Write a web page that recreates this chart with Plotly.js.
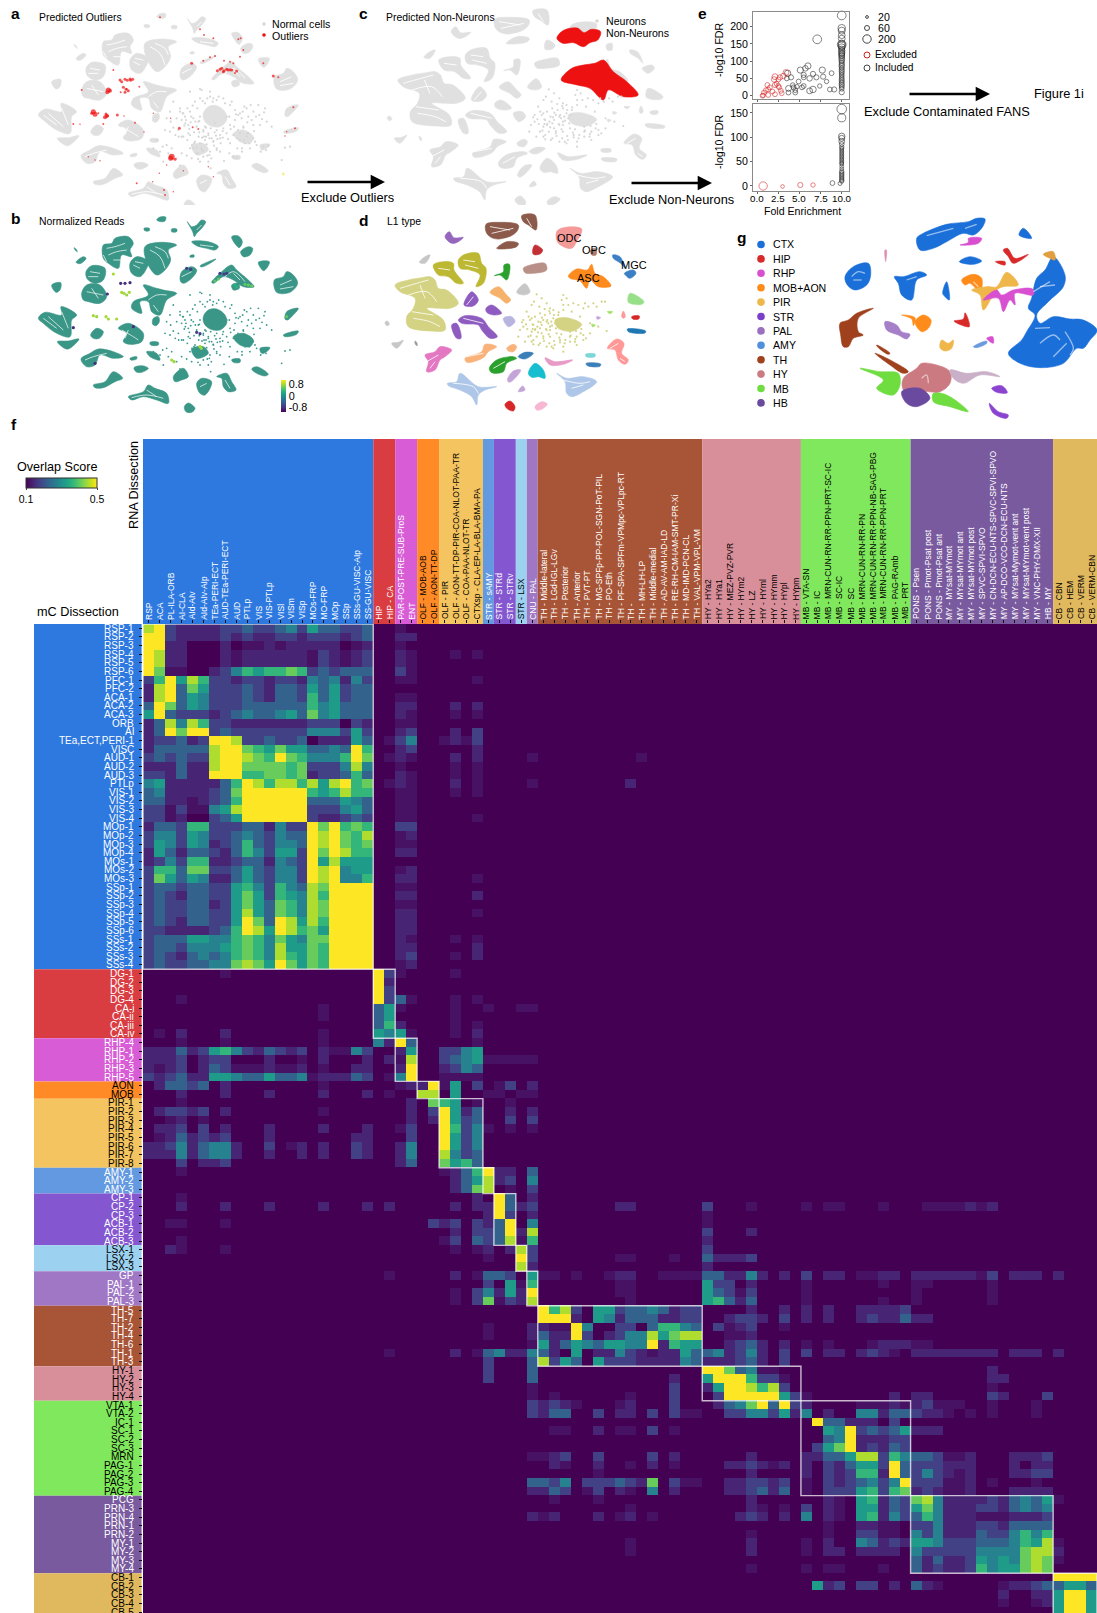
<!DOCTYPE html>
<html><head><meta charset="utf-8"><script src="https://cdn.plot.ly/plotly-3.0.1.min.js"></script>
<style>html,body{margin:0;padding:0;background:#fff}#g{width:1097px;height:1613px}</style></head><body><div id="g"></div>
<script>
const FONT='"Liberation Sans",Arial,sans-serif';
// ---------- heatmap labels ----------
const rowLabels=["RSP-1","RSP-2","RSP-3","RSP-4","RSP-5","RSP-6","PFC-1","PFC-2","ACA-1","ACA-2","ACA-3","ORB","AI","TEa,ECT,PERI-1","VISC","AUD-1","AUD-2","AUD-3","PTLp","VIS-1","VIS-2","VIS-3","VIS-4","MOp-1","MOp-2","MOp-3","MOp-4","MOs-1","MOs-2","MOs-3","SSp-1","SSp-2","SSp-3","SSp-4","SSp-5","SSp-6","SSs-1","SSs-2","SSs-3","SSs-4",
"DG-1","DG-2","DG-3","DG-4","CA-i","CA-ii","CA-iii","CA-iv","RHP-4","RHP-1","RHP-2","RHP-3","RHP-5","AON","MOB","PIR-1","PIR-2","PIR-3","PIR-4","PIR-5","PIR-6","PIR-7","PIR-8","AMY-1","AMY-2","AMY-3","CP-1","CP-2","CP-3","ACB-1","ACB-2","ACB-3","LSX-1","LSX-2","LSX-3","GP","PAL-1","PAL-2","PAL-3","TH-5","TH-7","TH-2","TH-4","TH-6","TH-1","TH-3","HY-1","HY-2","HY-3","HY-4","VTA-1","VTA-2","IC-1","SC-1","SC-2","SC-3","MRN","PAG-1","PAG-2","PAG-3","PAG-4","PCG","PRN-3","PRN-4","PRN-1","PRN-2","MY-1","MY-2","MY-3","MY-4","CB-1","CB-2","CB-3","CB-4","CB-5"];
const colLabels=["RSP","ACA","PL-ILA-ORB","AI-CLA","AId-AIv","AId-AIv-AIp","TEa-PERI-ECT","AUD-TEa-PERI-ECT","AUD","PTLp","VIS","VIS-PTLp","VISl","VISm","VISp","MOs-FRP","MO-FRP","MOp","SSp","SSs-GU-VISC-AIp","SS-GU-VISC","HIP","HIP - CA","PAR-POST-PRE-SUB-ProS","ENT","OLF - MOB-AOB","OLF - AON-TT-DP","OLF - PIR","OLF - AON-TT-DP-PIR-COA-NLOT-PAA-TR","OLF - COA-PAA-NLOT-TR","CTXsp - CLA-EP-LA-BLA-BMA-PA","STR - sAMY","STR - STRd","STR - STRv","STR - LSX","CNU - PAL","TH - Middle-lateral","TH - LGd-IGL-LGv","TH - Posterior","TH - Anterior","TH - PVT-PT","TH - MG-SPFp-PP-POL-SGN-PoT-PIL","TH - PO-Eth","TH - PF-SPA-SPFm-VPMpc-VPLpc-RT","TH -","TH - MH-LH-LP","TH - Middle-medial","TH - AD-AV-AM-IAD-LD","TH - RE-RH-CM-IAM-SMT-PR-Xi","TH - MD-IMD-PCN-CL","TH - VAL-VPM-VPL-VM","HY - HYa2","HY - HYa1","HY - MEZ-PVZ-PVR","HY - HYm2","HY - LZ","HY - HYml","HY - HYmm","HY - HYpl","HY - HYpm","MB - VTA-SN","MB - IC","MB - MRN-CUN-RN-RR-PPN-PRT-SC-IC","MB - SC-IC","MB - SC","MB - MRN-CUN-RN-RR-PN","MB - MRN-CUN-RN-RR-PPN-NB-SAG-PBG","MB - MRN-CUN-RN-RR-PPN-PRT","MB - PAG-RAmb","MB - PRT","PONS - Psen","PONS - Pmot-Psat post","PONS - Pmot-Psat ant","MY - MYsat-MYmot","MY - MYsat-MYmot ant","MY - MYsat-MYmot post","MY - SPVC-SPVI-SPVO","MY - CN-DCN-ECU-NTS-SPVC-SPVI-SPVO","MY - AP-DCO-VCO-DCN-ECU-NTS","MY - MYsat-Mymot-vent ant","MY - MYsat-MYmot-vent post","MY - VNC-PHY-DMX-XII","HB - MY","CB - CBN","CB - HEM","CB - VERM","CB - VERM-CBN"];
const groupNames=["CTX","HIP","RHP","MOB","PIR","AMY","STR","LSX","PAL","TH","HY","MB","HB","CB"];
const groupColors=["#2e79e0","#d93d42","#d75cd5","#ff8a26","#f3c45f","#6299e0","#8456d0","#9dd1f0","#a077c5","#a75437","#d98f9a","#80e85c","#795a9e","#e0b85e"];
const groupTextColors=["#fff","#fff","#fff","#000","#000","#fff","#fff","#000","#fff","#fff","#000","#000","#fff","#000"];
const rowGroupSizes=[40,8,5,2,8,3,6,3,4,7,4,11,9,5];
const colGroupSizes=[21,2,2,2,4,1,2,1,1,15,9,10,13,4];
// ---------- heatmap values, one char per cell on a 0-9 viridis scale (a=faint); segments: CTX | HIP..PAL | TH | HY | MB | HB | CB
const overlapRows=[
"892111122322342533223 00a","992111121211221222123 0011","991100010aa1a111110a1 00a","98110001a111111a21a12 001a000a0a","98110001a111111a21a12 001a","97aa00124656676232333 002a",
"269586221221221434142 00aa00000a","189375222321332535233 0","189354222321332635233 00aa","397354222333333645333 0011000101","593222123433453745333 001a000a0a","138486221111111222021 00aa","139799232222222444252 0012000102",
"122312998223223011153 0a2400a1a2","133333899765755334396 0012000001","232322899876976444697 0a1a0001010000a 000000000a","111311899777767222484 00a0000a0a","221311999667767122363 001a000a0a",
"451111136986886858967 0a1a00010a0000a 000000001","341111237999999656866 00aa000a0a","3311a1236999999333543 00aa","22a2aa458999999222453 00aa","22a100235999999211232 00aa00000a",
"133266222331422979676 0022","244254223432433989768 00a1","254254123632443989767 00aa","153133213642552979866 0011","124266112331432958555 0","266377223532442989455 00a1","275354113532442989446 001100000a",
"233233225642643879999 00aa","232133225752654869999 0011000001","232233125753764879999 00aa","232233225853764879999 001100000a","232133225973985869999 0011","221111236985986759999 0011",
"233355446764754779999 001a000a0a","233244456764855769999 0011000001","232134346764865769999 0012000a01","232233447875975769999 00a1",
"0000000a 92a0000a","0 91","0 92","000a 923a000a0a","0000000000000000a 35a0000a00a00aa","0000000000000000a 3500000a","0 3610000a0a","0a01000100000000a 545a000a01",
"000a000a00000000a 419300000a","11131256421321201aa42 0015002245","11120122000100a010001 01a8002345aaaaa","1a120132aaa1aa10a0011 0019001243","212311554335334a11132 0a4900aaaa",
"0133230100000000a0000 00a119a5020a201","000100010001000010001 0a00880500aa0aa",
"000a 000107650a00a","0122120100000000a0000 000102951300101","00a10a 000101952300202","011202010001000010001 00a2009624a0a0a","0a1312120001000000011 0002009524","1124134410020a1010021 0014009524","111413441001001010021 0014008423","000201120 0013007563",
"000a 000000a13691103","0 000000013581204","0 000000013780a02",
"000a 000000000109301","000100010001000010001 010000010119312 000000011 2000a a0aa000a 0aaaa1a1","0 000000000019201 0 a","00aa000a 000002120213904 0 a","0 000000010223918 0 20001","000a 000000a203238a6 0 1",
"001a000a 0000000a0a10182 0 2","0 0000000000a0092 0000000aa000a 31112","0 000000000000081 0 1",
"0 0a0000010a33205 aa0a00a1100aaaa 331141010 20110aa110 111111a201110 1","0 0000000000205a6 0000000aa 52201 a000000a aa00000a",
"0 0000000a0241519 0000000aa 532a2 a a000000a","0 0000000a027a218 00000000a 56313 a000000a a000000a",
"0 0 968205523343122 000010010 1010011112","0 0 999105413331122 001221020 1010012113 11","0 0000000000a0001 1aa940022036643 02a1200a","0 0000000000a0001 311920124485788 00aa1","0 00000000000000a 513543554491655 001231010 a0a000a111 aa",
"0 0a0000010a34114 3105011421a1153 341241020 20110121a0 1111111101110 1","0 000000000020003 825305222111143 111231020",
"0 000000000020003 0 99734aa 0 00000001","0 000000000020003 0000000000001 5999622a 0 000000011","0 00000000000000a 0000000000002 15998682 0 0000000a","0 00000000000000a 0a000000a0002 029999952 a00000001 1100000210002",
"0 000000000000002 121a000a10002 013479392 10000aaa1a 12aaa00a000a","0 000000000000002 1330020110202aa 002244251 4010044133 211a0a0a000a",
"0 0 0 0 093311102","0 0 0aa0010aa020a 0 0054923235 111","0 0 0 0 0034911122","0 0 0 0 0257912132",
"0 00000000000000a a120020000201 00001 1133588264 332aa10001112","0 0 01a00100a010a 001121a1 1021355293 2221110001011","0 0 00000a 00001 1021266193 2421a10001122",
"0 000000000000003 3240222321702aa 00112212 a021234249 222aa10a000a","0 000000000000001 1320a201a0401 00112313 a022256267 121aa10001111",
"0 0 0a000a 00001 001a056132 7841111213435 a","0 0 00000000a 00001a0a 201a055132 5741112213434","0 000000000000001 a100010a10a 00012101 401a056142 364111aaa1112",
"0 0 0 0 00a0011aa 2241112213333","0 0 0 0000a 00a0022aa 4241113224646","0 0 00000000a 00001 a010043121 5542223334658 a","0 0 00000000a 00001 a01101111 4222224444788 1","0 0 0 0 0 3131125454787 a","0 0 0 0000a a0aa000a 3121126455787",
"0 0 0 0 0 0 9999","0 0 0 0 051202201 31a00000a1123 3553","0 0 0 0 0 0000000010011 5995","0 0 0 0 0 00000000a00a1 5995","0 0 0 0 0 0 5995"];
const segmentLengths=[21,15,15,9,10,13,4];
const levelScores={'0':.1,'a':.118,'1':.14,'2':.176,'3':.224,'4':.276,'5':.32,'6':.364,'7':.408,'8':.452,'9':.5};
const z=overlapRows.map(r=>{const segs=r.split(' ');let out=[];segmentLengths.forEach((n,i)=>{const s=((segs[i]||'')+'0'.repeat(n)).slice(0,n);for(const c of s)out.push(levelScores[c]);});return out;});
// ---------- UMAP outlines (image-crop units) ----------
const layoutABBlobs=[[470,45,480,36,497,36,495,48,482,50],[432,70,448,70,448,77,434,77],[515,72,530,72,530,80,515,80],[562,50,575,65,590,60,605,45,617,50,605,70,590,85,583,95,578,80],[575,110,610,108,640,115,655,125,645,135,620,130,590,122],[695,95,715,93,727,110,718,128,708,120],[722,140,745,125,758,130,750,150,730,155],[775,172,808,170,800,190,790,197],[570,152,582,150,582,156,570,156],
[310,120,335,115,345,100,385,95,400,115,390,135,395,155,365,150,355,190,325,175,310,160],[390,175,410,155,445,170,440,190,420,215,395,205],[435,125,480,112,530,120,505,135,512,165,495,195,470,210,440,170],[545,200,575,185,590,195,575,220,550,235,541,228],[635,232,660,205,695,180,710,195,745,225,762,245,730,245,700,225,670,215,640,235],[695,240,715,235,718,250,700,255],[823,225,850,215,860,200,880,210,893,235,870,262,830,262],[600,183,625,170,648,162,630,175,605,186],[228,172,250,155,258,160,240,176],[222,128,228,132,232,140,226,136],
[258,200,275,182,315,190,310,225,285,235,262,222],[245,265,260,240,300,240,320,275,300,295,265,290,250,285],[155,240,182,233,180,255,168,262],[430,240,470,250,490,255,530,265,500,285,480,330,455,320,445,290,420,290,425,325,395,310,400,290,445,270],[460,340,475,335,478,350,468,362,458,358],[115,340,135,322,185,330,183,305,230,330,215,345,210,395,170,385,130,355],[272,390,290,370,310,380,298,400,280,400],[355,370,385,355,430,385,425,410,390,418,370,410,380,385],[172,410,205,408,237,402,205,432,190,428],[243,462,270,445,295,432,340,440,370,455,340,460,300,450,285,480,260,485],[402,488,425,482,445,490,425,502,408,500],[280,540,315,530,340,500,368,520,345,530,310,548,285,548],[385,575,430,560,445,540,465,550,500,565,505,595,470,585,430,575,395,585],[553,605,565,594,585,610,575,622,558,620],[590,535,605,520,635,530,615,570,600,565],[650,515,680,505,695,530,708,555,685,560,670,545,665,520],[520,515,550,490,565,515,545,525,525,530],[755,492,770,485,805,508,795,513,770,505],[695,464,720,462,720,472,700,472],[855,342,860,320,895,310,875,335,862,345],[850,390,895,378,890,388,855,395],[610,335,625,315,650,312,675,330,680,355,660,375,630,372,612,355],[700,395,730,385,760,405,750,425,720,420],[780,430,810,428,800,440,785,445],[440,440,470,445,480,465,450,455],[450,412,475,412,475,420,452,420],[390,460,410,455,410,462,392,465],[575,432,610,425,625,445,590,460]];
const layoutABStreaks=[[320,130,345,125,375,115],[325,150,350,140,380,135],[340,165,365,165],[400,180,420,190],[405,170,430,175],[450,135,480,155,495,190],[465,125,495,140,505,160],[270,200,300,205],[265,215,295,215],[260,260,285,265,310,270],[275,250,295,280],[130,340,170,370],[145,335,190,375],[185,320,205,370],[365,375,400,395,415,405],[385,375,375,400],[255,465,280,455,320,445],[395,578,440,570,490,580],[440,555,470,575],[665,225,700,200,735,230],[700,205,720,225],[840,240,875,225],[840,252,880,245],[445,285,470,270,500,270],[460,300,475,320],[320,170,310,150],[545,215,575,200],[605,60,590,75],[600,120,640,125],[600,545,620,535],[675,525,690,550]];
const layoutABCloudX=[540,555,570,585,600,615,630,650,670,690,705,720,740,760,775,795,565,580,600,590,610,625,650,670,690,705,725,745,760,780,800,815,545,535,550,570,585,600,615,640,660,680,700,720,740,760,770,790,805,720,735,750,690,650,630,610,590,570,575,600,625,650,660,520,510,500,530,495,510,545,470,460,480,500,515,490,530,545,560,700,710,855,870,845,600,570,605,630,640,625,680,595,645,660,730,755,565,615,635,580,548,562,578,592,608,622,638,656,675,695,715,733,752,768,786,558,572,586,598,618,632,644,688,708,728,742,778,792,553,568,582,596,612,628,648,668,692,712,732,748,765,782,798,562,576,590,604,620,642,662,684,726,744,762,540,556,574,594,610,640,606,622,634,652,668,610,598,606,628,594,582,702,714,730,742,712,726,700,688,672,550,536,520,512,526,488,505,540,618,632];
const layoutABCloudY=[320,345,330,300,290,305,285,295,290,310,325,335,320,330,310,320,370,350,345,375,385,395,385,380,370,355,350,345,370,370,360,375,355,385,405,400,420,425,415,420,410,395,400,395,405,410,430,435,432,415,425,440,425,440,450,450,455,440,470,480,480,445,450,300,330,350,350,385,390,405,415,440,450,430,440,480,470,455,462,465,468,438,435,475,262,270,265,270,290,400,345,360,365,400,375,355,395,375,410,440,335,320,312,320,298,290,300,285,305,300,340,315,310,345,352,355,362,360,358,378,380,392,345,338,330,362,340,332,372,382,392,405,405,410,402,388,382,410,415,425,420,450,445,415,430,438,440,428,432,425,412,440,395,388,330,365,345,455,465,418,408,462,470,412,408,390,392,445,460,472,425,375,385,378,395,440,450,465,455,478,335,405,378,360,400,435,455,492,405,500];
const outlierX=[480,600,612,640,715,722,730,720,575,610,630,645,665,680,695,710,660,700,672,690,820,835,790,340,360,375,390,398,325,330,370,378,385,375,418,245,280,275,295,318,320,352,372,220,240,310,405,432,460,512,538,578,595,515,525,500,550,625,640,478,410,458,492,495,520,285,300,265,880,885,860,855,684,670,652,672,690,705,365,382,392,362,380,322,315,285,323,512];
const outlierY=[47,83,100,110,113,110,145,165,185,177,167,163,200,203,205,208,203,185,177,180,223,227,185,205,235,233,232,233,265,267,257,263,267,272,255,265,330,335,335,337,343,340,343,367,368,367,363,391,335,350,380,377,382,465,473,490,507,495,525,515,545,540,565,580,570,475,477,465,317,380,390,403,205,210,207,207,204,214,240,236,236,272,262,272,347,338,342,470];
const outlierSize=[2,2,2,2,2,2,2,2,3,2,2,2,3,3,3,3,3,2,2,2,3,2,2,2,3,3,3,3,5,4,3,3,3,3,2,2,5,3,2,3,4,3,1.5,2,1.5,2,2,1.5,1.5,1.5,3,2,2,6,3,1.5,1.5,1.5,1.5,1.5,2,1.5,2,2,1.5,1.5,1.5,1.5,2,2,1.5,1.5,3,3,3,3,3,2,3,3,3,2,2,4,4,5,3,5];
const readsX=[365,372,380,388,280,290,318,325,350,515,522,600,604,362,375,390,322,590,600,660,672,680,560,572,645,655,735,745,755,860,400,220,285,340,705,710];
const readsY=[262,265,270,262,332,335,335,342,342,465,470,425,430,235,235,233,267,382,386,205,207,205,190,193,228,222,238,240,243,335,365,368,475,207,240,245];
const readsScore=[.8,.8,.75,.8,.8,.75,.8,.8,.8,.8,.75,.8,.75,-.8,-.8,-.8,-.8,-.7,-.7,-.7,-.7,-.7,-.7,-.7,.55,.55,.55,.6,.6,.55,-.8,-.8,-.8,.8,.3,.3];
const layoutCDBlobs=[[408,58,445,52,505,60,500,80,465,100,430,100,410,85],[440,130,470,110,505,115,500,125,445,132],[515,32,555,30,558,75,535,60,520,50],[548,135,555,120,578,135,570,147,550,148],[620,80,640,68,695,72,680,110,665,130,640,125,622,110],[722,135,738,130,738,150,725,150],[788,150,810,155,825,190,812,175,790,160],[823,205,850,195,858,205,840,220,828,212],[655,213,680,192,712,195,725,178,735,205,760,215,783,243,745,245,720,225,710,250,690,228,660,220],[520,190,550,178,585,175,590,195,550,205,525,203],[433,212,460,200,462,180,478,178,478,205,470,225,450,210],[325,165,345,148,385,145,395,175,408,190,400,235,378,245,390,210,360,195,330,190],[250,180,280,170,310,175,312,195,340,235,320,235,295,215,265,210],[285,95,298,80,312,98,340,97,325,110,305,115],[208,172,225,155,240,150,225,175],[105,352,112,348,118,358,110,362],[125,415,145,412,160,405,140,430],[195,408,200,412,202,422,196,418],[135,240,175,225,215,218,240,215,255,225,265,250,290,255,325,295,300,310,270,310,230,310,280,345,285,375,240,378,175,365,170,335,190,310,195,280,150,260],[420,262,445,245,470,270,482,285,470,295,450,280],[500,262,525,236,540,262,520,270],[342,300,365,260,385,285,370,303],[408,310,425,300,455,325,430,330,410,322],[325,345,345,332,395,340,415,365,442,395,420,400,395,375,385,360,335,355],[305,360,320,355,333,400,320,400],[460,340,485,335,495,350,475,365],[225,450,255,440,270,425,305,435,285,455,270,465,255,495,230,500,235,470],[345,460,395,440,405,418,440,425,415,440,400,458,350,472],[470,430,490,418,500,425,490,440,475,438],[418,490,440,465,490,455,500,460,470,475,460,500,425,503],[505,455,525,442,550,445,525,462],[535,505,555,475,580,495,585,520,565,515,545,517],[472,525,490,498,512,495,495,520,478,532],[505,560,518,543,525,555],[292,535,320,530,330,505,385,545,440,545,405,555,385,570,380,600,365,575,330,555,295,542],[620,505,650,520,700,515,740,530,700,560,665,575,650,565,645,530],[585,458,615,470,668,465,640,478,600,480],[772,430,800,402,822,415,815,445,835,465,825,478,805,465,795,435],[465,598,480,588,495,605,490,618,470,610],[555,605,575,590,592,597,575,613,560,615],[840,265,882,290,875,298,835,292],[845,335,868,333,866,342,848,342],[815,335,820,318,826,335,820,340],[832,372,887,378,885,384,835,380],[707,448,735,447,735,455,708,455],[708,475,752,477,750,484,712,482],[740,335,752,338,742,343],[725,358,736,360,728,366],[772,320,788,320,780,326],[615,345,650,338,695,358,670,378,625,370]];
const layoutCDColors=["#8b5a4a","#8b5a4a","#8b5a4a","#c22f35","#f49a98","#b07a6a","#3b7fc4","#3b7fc4","#ff8a1e","#b99088","#2ca02c","#bdb833","#bdb833","#9467bd","#c7c7c7","#c7c7c7","#c7c7c7","#9a9a9a","#d4d384","#f6b26b","#c7c7c7","#8e5cc0","#8e5cc0","#8e5cc0","#8e5cc0","#b7b5e0","#e377c2","#f8b27a","#f8b27a","#2ca02c","#3a7fb8","#17becf","#c5a5d8","#c5a5d8","#aec7e8","#aec7e8","#e89ac7","#ff9896","#d62728","#f7b6d2","#98df8a","#d62728","#ff9896","#1f77b4","#7fd6d6","#3a7fb8","#c5a5d8","#a6e06a","#a6e06a","#d4d384"];
const layoutCDStreaks=[[150,250,200,235,235,225],[175,270,230,260,260,290],[210,240,225,280],[190,340,240,350,270,365],[185,320,250,330],[340,165,375,170],[345,180,385,190],[265,190,300,195],[420,65,480,75],[425,85,490,70],[450,105,490,95],[530,40,545,65],[340,340,400,355],[350,300,370,275],[350,455,400,445],[310,535,370,545,385,565],[640,525,690,535,720,530],[665,550,700,540],[230,470,265,450],[240,490,255,470],[780,430,805,415],[810,460,825,470],[430,490,465,470]];
const panelCNonNeuronBlobs=[[583,115,600,92,640,84,660,98,680,88,706,95,698,120,676,128,658,140,630,128,600,130],[595,240,625,205,658,195,690,190,714,180,742,215,780,245,812,285,770,290,728,270,714,300,676,265,640,255]];
const layoutCDCloudX=[560,575,590,600,545,530,520,510,505,540,555,570,585,600,610,550,565,580,595,610,625,640,655,670,685,700,715,730,740,755,765,640,635,680,700,720,660,680,700,640,610,590,570,550,535,525,620,600,575,560,545,640,665,690,630,600,590,545,570,580,590,600,615,575,555,660,720,745,770,605,640,675,545,520,650,705,552,568,584,598,612,626,536,548,562,576,592,606,622,528,542,556,572,588,604,618,634,516,532,548,564,580,596,612,628,644,660,676,692,708,550,566,582,598,614,630,646,662,678,694];
const layoutCDCloudY=[268,280,295,310,300,320,345,375,395,345,335,325,330,325,315,360,350,345,355,340,330,315,300,295,300,310,305,295,305,290,290,270,285,395,390,385,410,420,405,425,430,425,415,405,395,410,385,395,385,395,410,300,320,335,405,365,375,380,370,400,350,375,355,360,375,380,355,365,378,425,440,410,340,365,280,295,290,305,312,318,330,322,335,372,365,338,345,362,345,358,392,372,352,372,350,370,388,352,372,358,382,394,388,408,398,415,395,402,385,400,418,420,408,415,420,412,405,392,378,372];
const panelGBlobs=[[590,70,610,55,680,28,745,20,770,10,795,12,785,40,760,60,730,55,680,80,640,100,600,105],[865,415,905,375,920,350,945,300,925,280,935,250,950,190,975,165,1000,125,1035,180,1030,215,985,260,950,300,960,325,1000,305,1050,312,1090,315,1131,345,1110,375,1090,400,1070,400,1030,445,960,458,900,445],[375,185,400,155,445,145,452,180,440,210,405,225,382,210],[523,185,550,185,600,170,620,180,590,195,575,255,545,240,535,205],[668,235,680,200,688,255,675,245],[718,140,750,125,785,138,760,148],[897,60,910,40,935,70],[725,195,760,178,785,190,780,230,750,205,735,210],[585,320,610,300,633,315,625,340,605,350],[755,225,800,215,830,215,860,172,895,210,850,215,830,225,790,285,780,240],[790,255,830,225,845,240,880,225,938,222,940,240,885,235,885,270,870,255,850,290,835,250],[745,70,785,70,775,85,720,90,745,82],[850,105,862,100,885,130,925,118,880,145,865,125],[826,140,855,140,855,150],[702,318,730,312,735,293,748,335],[360,325,385,315,410,295,460,280,415,310,415,350,430,360,400,370,385,395,370,395,362,360],[465,415,520,440,565,470,550,475,510,450],[420,460,480,470,535,475,540,510,520,540,470,520,490,495],[640,535,680,540,745,590,690,575,640,560],[550,490,590,460,605,445,650,450,690,470,690,505,660,530,600,530,570,545,548,520],[545,530,600,520,630,550,590,575,560,565],[815,520,845,512,862,533,830,532],[808,565,835,590,865,600,860,610,820,595],[665,375,685,385,700,375,695,400,675,408,660,398],[800,370,818,365,820,385],[760,395,800,378,800,385,770,398],[495,320,530,330,545,350,570,358,560,372,535,360,500,345],[545,300,585,308,580,332,575,312],[690,465,740,475,800,470,840,485,780,480,730,505,700,490],[470,390,510,415,505,418,472,395],[970,118,1000,110,1005,135,990,130],[495,105,499,105,497,140]];
const panelGColors=["#1a6fd8","#1a6fd8","#1a6fd8","#1a6fd8","#1a6fd8","#1a6fd8","#1a6fd8","#ff8c1a","#ff8c1a","#efb64a","#d84fd0","#d84fd0","#d92a2a","#d92a2a","#d92a2a","#a0411e","#a0411e","#6fdc3f","#6fdc3f","#cc7a82","#6a4a9e","#8b44d0","#8b44d0","#efb64a","#d84fd0","#6a9ade","#a57fc8","#ff8c1a","#c9b0c8","#a0411e","#e0a040","#e08ab0"];
const panelGStreaks=[[395,185,415,170,435,175],[400,195,425,195],[605,490,620,480,625,505],[960,385,1000,360,1020,375],[1000,425,1040,385],[1035,350,1060,400,1050,420],[940,230,990,200],[960,215,1005,210],[945,340,990,338],[620,62,700,40],[735,40,770,28],[560,195,590,185],[760,200,775,215]];
// ---------- panel e values ----------
const e1ExcludedFold=[.63,.8,1.03,1.3,1.2,1.5,1.8,2.1,2.1,2.6,2.8,2.9,2.1,2.0,2.5,2.7,3.1,3.4,2.5,2.3,.7,1.3];
const e1ExcludedFdr=[0,9,16,2,31,24,12,4,31,24,14,7,55,47,47,53,57,67,28,34,1,18];
const e1ExcludedN=[60,60,60,60,60,60,60,60,70,60,60,60,90,80,60,70,80,90,60,60,50,60];
const e1IncludedFold=[3.6,4.0,3.5,3.7,4.3,4.5,4.9,5.1,5.5,6.0,5.7,5.5,6.2,6.6,7.1,7.7,7.8,8.2,8.8,8.6,9.1,7.4,6.6,6.2,5.3,4.7,4.2,3.7,4.5,5.5,7.0,10,10,10,10,10,10,10,10,10,10,10,10,10,10,10,10,10,10,10,10,10,10,10,10,10,10,10,10,10,10,10,10,10,10,10];
const e1IncludedFdr=[65,53,50,21,24,16,41,74,60,86,79,53,50,63,163,74,55,41,65,18,18,28,18,14,24,26,31,9,9,28,53,232,195,188,175,165,150,148,140,130,125,118,110,105,100,95,90,85,80,75,70,65,60,55,50,45,40,35,30,25,20,10,145,135,122,115];
const e1IncludedN=[100,70,60,90,60,60,60,100,70,100,80,60,80,70,200,100,70,50,60,60,70,50,110,90,60,50,50,60,60,60,70,200,150,130,120,120,130,200,120,110,100,90,80,90,70,70,70,80,60,70,70,60,60,60,60,70,60,70,70,60,60,70,150,90,90,90];
const e2ExcludedFold=[.7,3,5.1,6.6];const e2ExcludedFdr=[0,-1,2,2];const e2ExcludedN=[180,35,70,50];
const e2IncludedFold=[8.9,9.8,10,10,10,10,10,10,10,10,10,10,10,10,10,10,10,10,10,10,10,10,10,10,10,10,10,10,10,10,10];
const e2IncludedFdr=[6,5,158,140,102,98,92,86,80,74,68,62,56,50,45,40,35,30,27,24,21,18,15,12,10,77,71,65,59,53,47];
const e2IncludedN=[60,40,240,170,110,90,90,60,50,40,40,40,40,40,40,40,40,50,50,50,50,50,50,50,50,40,40,40,40,40,40];
const foldTicks=[0,2.5,5,7.5,10],foldTickText=['0.0','2.5','5.0','7.5','10.0'];
// ---------- helpers ----------
const W=1097,H=1613,px=x=>x/W,py=y=>1-y/H;
const layout={width:W,height:H,margin:{l:0,r:0,t:0,b:0},paper_bgcolor:'#fff',plot_bgcolor:'#fff',showlegend:false,hovermode:false,font:{family:FONT,size:10,color:'#000'},annotations:[],shapes:[]};
const traces=[];
function axes(n,x0,x1,y0,y1,rx,ry,extraX,extraY){const s=n===1?'':n;
 layout['xaxis'+s]=Object.assign({domain:[px(x0),px(x1)],range:rx,visible:false,anchor:'y'+s,fixedrange:true},extraX||{});
 layout['yaxis'+s]=Object.assign({domain:[py(y1),py(y0)],range:ry,visible:false,anchor:'x'+s,fixedrange:true},extraY||{});
 return ['x'+s,'y'+s];}
function poly(list,color,ax){const x=[],y=[];list.forEach(p=>{for(let i=0;i<p.length;i+=2){x.push(p[i]);y.push(p[i+1]);}x.push(p[0]);y.push(p[1]);x.push(null);y.push(null);});
 traces.push({type:'scatter',mode:'lines',x,y,xaxis:ax[0],yaxis:ax[1],fill:'toself',fillcolor:color,line:{color,width:.6,shape:'spline',smoothing:1},hoverinfo:'skip'});}
function streaks(list,color,width,ax){const x=[],y=[];list.forEach(p=>{for(let i=0;i<p.length;i+=2){x.push(p[i]);y.push(p[i+1]);}x.push(null);y.push(null);});
 traces.push({type:'scatter',mode:'lines',x,y,xaxis:ax[0],yaxis:ax[1],line:{color,width,shape:'spline'},hoverinfo:'skip'});}
function pts(x,y,size,color,ax,extra){traces.push(Object.assign({type:'scatter',mode:'markers',x,y,xaxis:ax[0],yaxis:ax[1],marker:{size,color,line:{width:0}},hoverinfo:'skip',cliponaxis:false},extra||{}));}
function T(text,x,y,size,o){layout.annotations.push(Object.assign({xref:'paper',yref:'paper',x:px(x),y:py(y),text,showarrow:false,xanchor:'left',yanchor:'middle',borderpad:0,font:{family:FONT,size,color:'#000'}},o||{}));}
function dot(x,y,r,fill,line){layout.shapes.push({type:'circle',xref:'paper',yref:'paper',x0:px(x-r),x1:px(x+r),y0:py(y+r),y1:py(y-r),fillcolor:fill,line:{color:line||fill,width:line?1:0},layer:'above'});}
function arrow(x0,x1,y){layout.annotations.push({xref:'paper',yref:'paper',axref:'paper',ayref:'paper',x:px(x1),y:py(y),ax:px(x0),ay:py(y),text:'',showarrow:true,arrowhead:2,arrowsize:1.1,arrowwidth:2.6,arrowcolor:'#000',standoff:0});}
// ---------- heatmap ----------
const nC=colLabels.length,nR=rowLabels.length;
const HX0=143,HY0=624,rowH=8.63;
axes(1,HX0,W,HY0,H,[-0.5,nC-0.5],[(H-HY0)/rowH-0.5,-0.5],
 {visible:true,side:'top',showgrid:false,zeroline:false,showline:false,ticks:'outside',ticklen:3,tickwidth:1,tickcolor:'#111',tickvals:colLabels.map((_,i)=>i),showticklabels:false},
 {visible:true,showgrid:false,zeroline:false,showline:false,ticks:'outside',ticklen:3,tickwidth:1,tickcolor:'#111',tickvals:rowLabels.map((_,i)=>i),showticklabels:false});
traces.push({type:'heatmap',z,zmin:.1,zmax:.5,colorscale:'Viridis',hoverinfo:'skip',
 colorbar:{orientation:'h',x:px(61.5),xanchor:'center',y:py(478),yanchor:'top',len:71,lenmode:'pixels',thickness:10,tickvals:[.1,.5],ticktext:['0.1','0.5'],ticks:'outside',ticklen:2,tickfont:{size:10.5,family:FONT},outlinewidth:1,outlinecolor:'#333',xpad:0,ypad:0}});
let cStart=0,rStart=0;
groupNames.forEach((g,i)=>{const cN=colGroupSizes[i],rN=rowGroupSizes[i],fill=groupColors[i],tc=groupTextColors[i];
 layout.shapes.push({type:'rect',xref:'x',yref:'paper',x0:cStart-.5,x1:cStart+cN-.5,y0:py(624),y1:py(439),fillcolor:fill,line:{width:0},layer:'below'});
 layout.shapes.push({type:'rect',xref:'paper',yref:'y',x0:px(34),x1:px(141.6),y0:rStart-.5,y1:rStart+rN-.5,fillcolor:fill,line:{width:0},layer:'below'});
 layout.shapes.push({type:'rect',xref:'x',yref:'y',x0:cStart-.5,x1:cStart+cN-.5,y0:rStart-.5,y1:rStart+rN-.5,fillcolor:'rgba(0,0,0,0)',line:{color:'rgba(255,255,255,.72)',width:1.4},layer:'above'});
 for(let c=cStart;c<cStart+cN;c++)layout.annotations.push({xref:'x',yref:'paper',x:c,y:py(620.5),text:colLabels[c],textangle:-90,showarrow:false,xanchor:'center',yanchor:'bottom',borderpad:0,font:{family:FONT,size:8.5,color:tc}});
 for(let r=rStart;r<rStart+rN;r++)layout.annotations.push({xref:'paper',yref:'y',x:px(135),y:r,text:rowLabels[r],showarrow:false,xanchor:'right',yanchor:'middle',borderpad:0,font:{family:FONT,size:10,color:tc}});
 cStart+=cN;rStart+=rN;});
T('Overlap Score',16,467,12.6);
T('RNA Dissection',134,485,12.7,{textangle:-90,xanchor:'center'});
T('mC Dissection',36,612,12.7);
// ---------- panels a, b (shared layout) ----------
const RX=[0,1020],RY=[645,0];
const axA=axes(2,0,340,1.7,216.7,RX,RY), axB=axes(3,0,340,205,420,RX,RY);
poly(layoutABBlobs,'#e0e0e0',axA);
streaks(layoutABStreaks,'#fff',.9,axA);
pts(layoutABCloudX,layoutABCloudY,2.2,'#d6d6d6',axA);
pts(outlierX,outlierY,outlierSize,'#ee1111',axA);
pts([850],[517],[3],'#f1ea6a',axA);
poly(layoutABBlobs,'#3a9687',axB);
streaks(layoutABStreaks,'#e6f2ef',.8,axB);
pts(layoutABCloudX,layoutABCloudY,1.8,'#3a9a90',axB);
pts(readsX,readsY,3.2,readsScore,axB,{marker:{size:3.2,color:readsScore,colorscale:'Viridis',cmin:-1.1,cmax:1.1,showscale:true,line:{width:0},colorbar:{x:px(281),xanchor:'left',y:py(396),yanchor:'middle',len:32,lenmode:'pixels',thickness:5,tickvals:[-.8,0,.8],ticktext:['-0.8','0','0.8'],ticks:'',tickfont:{size:10.8,family:FONT},outlinewidth:0,xpad:0,ypad:0}}});
// ---------- panels c, d (shared layout) ----------
const axC=axes(4,350,712,0,215,RX,RY), axD=axes(5,350,690,205,420,RX,RY);
layoutCDBlobs.forEach((b,i)=>{poly([b],'#e0e0e0',axC);poly([b],layoutCDColors[i],axD);});
streaks(layoutCDStreaks,'#fff',.9,axC);
streaks(layoutCDStreaks,'#fff',.8,axD);
poly(panelCNonNeuronBlobs,'#ee1111',axC);
pts(layoutCDCloudX,layoutCDCloudY,2.2,'#d6d6d6',axC);
pts(layoutCDCloudX,layoutCDCloudY,2.2,'#d4d384',axD);
// ---------- panel e ----------
const axE=axes(6,753,849,12,99,[-.5,10.86],[-9.6,242],
 {visible:true,showticklabels:false,ticks:'outside',ticklen:2,tickcolor:'#666',tickvals:foldTicks,showline:true,mirror:true,linecolor:'#8a8a8a',linewidth:1,showgrid:false,zeroline:false},
 {visible:true,ticks:'outside',ticklen:2,tickcolor:'#666',tickvals:[0,50,100,150,200],tickfont:{size:10.6,family:FONT},showline:true,mirror:true,linecolor:'#8a8a8a',linewidth:1,showgrid:false,zeroline:false});
const axF=axes(7,753,849,104,191,[-.5,10.86],[-10.3,168.4],
 {visible:true,showticklabels:false,ticks:'outside',ticklen:2,tickcolor:'#666',tickvals:foldTicks,showline:true,mirror:true,linecolor:'#8a8a8a',linewidth:1,showgrid:false,zeroline:false},
 {visible:true,ticks:'outside',ticklen:2,tickcolor:'#666',tickvals:[0,50,100,150],tickfont:{size:10.6,family:FONT},showline:true,mirror:true,linecolor:'#8a8a8a',linewidth:1,showgrid:false,zeroline:false});
foldTicks.forEach((v,i)=>layout.annotations.push({xref:'x7',yref:'paper',x:v,y:py(198.5),text:foldTickText[i],showarrow:false,xanchor:'center',yanchor:'middle',borderpad:0,font:{family:FONT,size:9.8,color:'#000'}}));
const ring=(x,y,n,col,ax)=>traces.push({type:'scatter',mode:'markers',x,y,xaxis:ax[0],yaxis:ax[1],hoverinfo:'skip',cliponaxis:false,marker:{size:n.map(v=>Math.sqrt(v)*.62),color:'rgba(0,0,0,0)',line:{color:col,width:.8}}});
ring(e1IncludedFold,e1IncludedFdr,e1IncludedN,'#222',axE);ring(e1ExcludedFold,e1ExcludedFdr,e1ExcludedN,'#d62020',axE);
ring(e2IncludedFold,e2IncludedFdr,e2IncludedN,'#222',axF);ring(e2ExcludedFold,e2ExcludedFdr,e2ExcludedN,'#d62020',axF);
T('-log10 FDR',719,50,10.6,{textangle:-90,xanchor:'center'});T('-log10 FDR',719,142,10.6,{textangle:-90,xanchor:'center'});
T('Fold Enrichment',802,211,10.6,{xanchor:'center'});
dot(867,17,1.4,'rgba(0,0,0,0)','#444');dot(867,28,2.5,'rgba(0,0,0,0)','#444');dot(867,39,4.2,'rgba(0,0,0,0)','#444');dot(867,55,3,'rgba(0,0,0,0)','#d62020');dot(867,68,3,'rgba(0,0,0,0)','#444');
T('20',877,17,10.6);T('60',877,28,10.6);T('200',877,39,10.6);T('Excluded',874,55,10.2);T('Included',874,68,10.2);
// ---------- panel g ----------
const axG=axes(8,720,1097,215,430,[0,1131],RY);
panelGBlobs.forEach((b,i)=>poly([b],panelGColors[i],axG));
streaks(panelGStreaks,'rgba(255,255,255,.55)',1.3,axG);
const gLegend=["CTX","HIP","RHP","MOB+AON","PIR","STR","PAL","AMY","TH","HY","MB","HB"];
const gLegendColors=["#1a6fd8","#d92a2a","#d84fd0","#ff8c1a","#efb64a","#7a3ec8","#9a6fbf","#4f8fdc","#a0411e","#cc7a82","#6fdc3f","#6a4a9e"];
gLegend.forEach((t,i)=>{const y=244.5+i*14.4;dot(761,y,3.8,gLegendColors[i]);T(t,772,y,10.6);});
// ---------- text, legends, arrows ----------
[['a',10,14],['b',10,219],['c',358,14],['d',358,221],['e',697,14],['f',10,425],['g',736,238]].forEach(l=>T('<b>'+l[0]+'</b>',l[1],l[2],15.5));
T('Predicted Outliers',38,18,10.4);T('Normalized Reads',38,222,10.4);T('Predicted Non-Neurons',385,18,10.4);T('L1 type',386,222,10.4);
dot(264,24,1.8,'#d8d8d8');dot(264,35,1.8,'#ee1111');T('Normal cells',271,24,10.6);T('Outliers',271,36,10.6);
dot(597,21,1.8,'#d8d8d8');dot(597,33,1.8,'#ee1111');T('Neurons',605,21,10.6);T('Non-Neurons',605,33,10.6);
T('ODC',556,238,11,{});T('OPC',581,250,11);T('MGC',620,265,11);T('ASC',576,278,11);
T('Exclude Outliers',300,198,12.8);T('Exclude Non-Neurons',608,200,12.8);T('Exclude Contaminated FANS',863,112,12.8);T('Figure 1i',1033,94,12.8);
arrow(306,385,182);arrow(630,712,183);arrow(908,990,94);
Plotly.newPlot('g',traces,layout,{staticPlot:true,displayModeBar:false});
</script></body></html>
